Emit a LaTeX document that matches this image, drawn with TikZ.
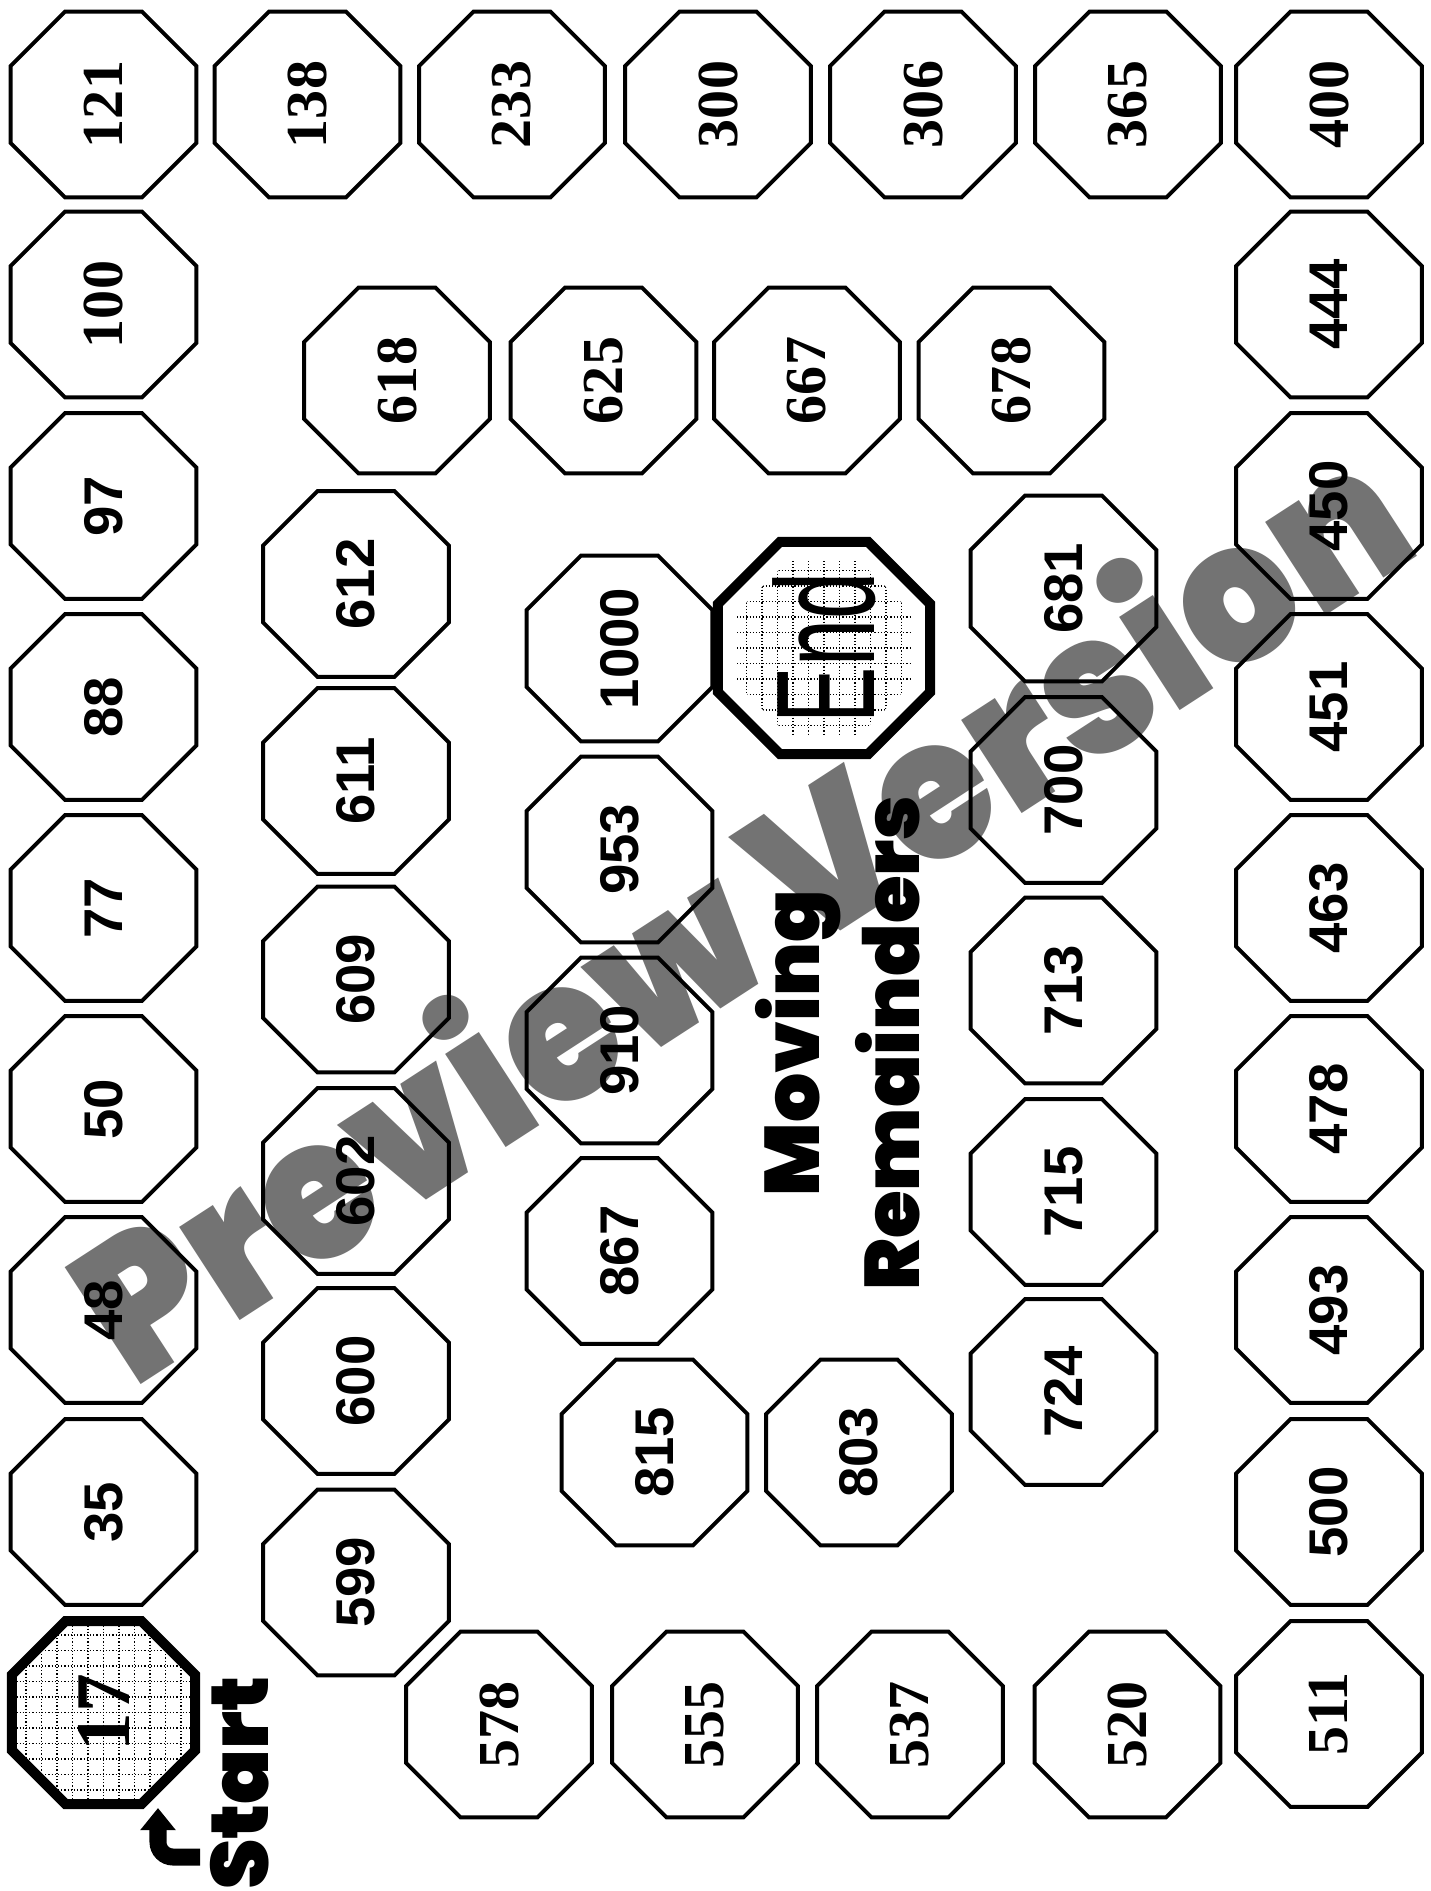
\documentclass[tikz,border=0pt]{standalone}
\usepackage{fontspec}
\usepackage{graphicx}
\setmainfont{Liberation Serif}
\newfontfamily\numsansfont{Liberation Sans}
\newfontfamily\cartoonfont{Poppins}[UprightFont=* Black]
\newfontfamily\endfont{Liberation Sans}
\usetikzlibrary{shapes.geometric,arrows.meta}
\definecolor{wmgray}{RGB}{115,115,115}

\begin{document}
\begin{tikzpicture}[x=0.01cm,y=-0.01cm,
  oct/.style={draw, regular polygon, regular polygon sides=8, minimum size=2.01cm, inner sep=0pt, line width=0.04cm, rotate=90},
  numserif/.style={oct, font=\bfseries\fontsize{16.5}{16.5}\selectfont},
  numsans/.style={oct, font=\numsansfont\bfseries\fontsize{15.5}{15.5}\selectfont},
  bigoct/.style={oct, line width=0.1cm, minimum size=1.96cm},
  gridline/.style={line width=0.012cm, dash pattern=on 0.012cm off 0.02cm},
  wm/.style={text=wmgray, font=\cartoonfont\fontsize{56}{56}\selectfont},
  titletext/.style={font=\cartoonfont\fontsize{22}{28.5}\selectfont, align=center},
  startarr/.style={line width=0.17cm, rounded corners=0.15cm, -{Triangle[width=0.34cm,length=0.22cm]}}
]
\fill[white] (0,0) rectangle (1431,1891);
\useasboundingbox (0,0) rectangle (1431,1891);

\node[wm, rotate=33] (wmark) at (735,903) {\scalebox{0.92}[1]{Preview Version}};

\node[numserif] (n121) at (103.5,104.5) {121};
\node[numserif] (n138) at (307.5,104.5) {138};
\node[numserif] (n233) at (512,104.5)   {233};
\node[numserif] (n300) at (718,104.5)   {300};
\node[numserif] (n306) at (923,104.5)   {306};
\node[numserif] (n365) at (1128,104.5)  {365};
\node[numserif] (n400) at (1329,104.5)  {400};

\node[numserif] (n100) at (103.5,304.5) {100};
\node[numsans]  (n97)  at (103.5,506)   {97};
\node[numsans]  (n88)  at (103.5,707)   {88};
\node[numsans]  (n77)  at (103.5,908)   {77};
\node[numsans]  (n50)  at (103.5,1109)  {50};
\node[numsans]  (n48)  at (103.5,1310)  {48};
\node[numsans]  (n35)  at (103.5,1512)  {35};
\node[bigoct, font=\bfseries\fontsize{22}{22}\selectfont, minimum size=1.98cm] (s17) at (103.5,1712.5) {17};

\node[numsans]  (n444) at (1329,304.5)  {444};
\node[numsans]  (n450) at (1329,506)    {450};
\node[numsans]  (n451) at (1329,707)    {451};
\node[numsans]  (n463) at (1329,908)    {463};
\node[numsans]  (n478) at (1329,1109)   {478};
\node[numsans]  (n493) at (1329,1310)   {493};
\node[numsans]  (n500) at (1329,1512)   {500};
\node[numserif] (n511) at (1329,1714)   {511};

\node[numserif] (n578) at (499,1724.5)  {578};
\node[numserif] (n555) at (705,1724.5)  {555};
\node[numserif] (n537) at (910,1724.5)  {537};
\node[numserif] (n520) at (1127.5,1724.5) {520};

\node[numsans]  (n599) at (356,1582.5)  {599};
\node[numsans]  (n600) at (356,1381)    {600};
\node[numsans]  (n602) at (356,1181)    {602};
\node[numsans]  (n609) at (356,979.5)   {609};
\node[numsans]  (n611) at (356,781)     {611};
\node[numsans]  (n612) at (356,584)     {612};

\node[numserif] (n618) at (397,380.5)   {618};
\node[numserif] (n625) at (603.5,380.5) {625};
\node[numserif] (n667) at (807,380.5)   {667};
\node[numserif] (n678) at (1011.5,380.5) {678};

\node[numsans]  (n681) at (1063.5,588.5) {681};
\node[numsans]  (n700) at (1063.5,790)   {700};
\node[numsans]  (n713) at (1063.5,990.5) {713};
\node[numsans]  (n715) at (1063.5,1192)  {715};
\node[numsans]  (n724) at (1063.5,1392)  {724};

\node[numsans]  (n803) at (859,1452.5)   {803};
\node[numsans]  (n815) at (654.5,1452.5) {815};
\node[numsans]  (n867) at (619.5,1251)   {867};
\node[numsans]  (n910) at (619.5,1050.5) {910};
\node[numsans]  (n953) at (619.5,849.5)  {953};
\node[numsans]  (n1000) at (619.5,648.5) {1000};

\node[bigoct, font=\endfont\fontsize{40}{40}\selectfont, minimum size=1.95cm] (endoct) at (824,648) {\scalebox{0.6}[1]{End}};

\begin{scope}[shift={(s17.center)}]
  \clip (22.5:96) foreach \a in {67.5,112.5,...,337.5} {-- (\a:96)} -- cycle;
  \foreach \k in {-6,...,6} {
    \draw[gridline] (\k*15.5,-100) -- (\k*15.5,100);
    \draw[gridline] (-100,\k*15.5) -- (100,\k*15.5);
  }
\end{scope}
\begin{scope}[shift={(endoct.center)}]
  \clip (22.5:94) foreach \a in {67.5,112.5,...,337.5} {-- (\a:94)} -- cycle;
  \foreach \k in {-6,...,6} {
    \draw[gridline] (\k*15.5,-100) -- (\k*15.5,100);
    \draw[gridline] (-100,\k*15.5) -- (100,\k*15.5);
  }
\end{scope}

\node[titletext, rotate=90] (title) at (838,1043) {Moving\\Remainders};
\node[font=\cartoonfont\fontsize{23}{23}\selectfont, rotate=90] (starttext) at (240,1783) {Start};

\coordinate (arrtail) at (200,1857);
\coordinate (arrtip) at (158,1808);
\draw[startarr] (arrtail) -| (arrtip);
\end{tikzpicture}
\end{document}
